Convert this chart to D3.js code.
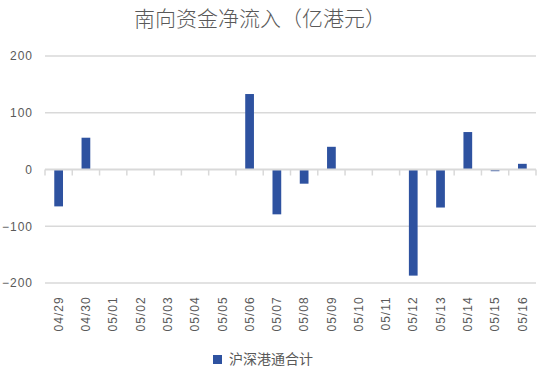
<!DOCTYPE html>
<html><head><meta charset="utf-8">
<script src="https://cdn.jsdelivr.net/npm/d3@7/dist/d3.min.js"></script>
<style>body{margin:0;background:#fff}svg{display:block}</style>
</head><body><svg id="c" width="541" height="379"></svg>
<script>
const categories = ["04/29","04/30","05/01","05/02","05/03","05/04","05/05","05/06","05/07","05/08","05/09","05/10","05/11","05/12","05/13","05/14","05/15","05/16"];
const values = [-65, 56, 0, 0, 0, 0, 0, 133, -79, -25, 40, 0, 0, -187, -67, 66, -3, 10];
const yTicks = [-200, -100, 0, 100, 200];
const title = "南向资金净流入（亿港元）";
const seriesName = "沪深港通合计";

const svg = d3.select("#c");
const m = {l: 45, r: 5, t: 56, b: 96};
const W = 541, H = 379;
const x = d3.scaleBand().domain(categories).range([m.l, W - m.r]).paddingInner(0.68).paddingOuter(0.34);
const y = d3.scaleLinear().domain([-200, 200]).range([H - m.b, m.t]);
const grey = "#595959", grid = "#d9d9d9", barCol = "#2e52a0";

svg.append("text").attr("x", 260).attr("y", 26).attr("text-anchor", "middle")
  .attr("font-family", "Noto Sans CJK SC").attr("font-weight", 300).attr("font-size", 21).attr("fill", grey).text(title);

// gridlines
svg.append("g").selectAll("line").data(yTicks.filter(d => d !== 0)).join("line")
  .attr("x1", m.l).attr("x2", W - m.r).attr("y1", d => y(d)).attr("y2", d => y(d))
  .attr("stroke", grid).attr("stroke-width", 1.5);

// y labels
const yAxis = d3.axisLeft(y).tickValues(yTicks).tickSize(0).tickPadding(12);
const ya = svg.append("g").attr("transform", `translate(${m.l},0)`).call(yAxis);
ya.select(".domain").remove();
ya.selectAll("text").attr("font-family", "Liberation Sans").attr("font-size", 12)
  .attr("fill", grey).attr("letter-spacing", "1px");

// bars
svg.append("g").selectAll("rect").data(values).join("rect")
  .attr("x", (d, i) => x(categories[i])).attr("width", x.bandwidth())
  .attr("y", d => y(Math.max(0, d))).attr("height", d => Math.abs(y(d) - y(0)))
  .attr("fill", barCol);

// zero axis with ticks between categories
const za = svg.append("g");
za.append("line").attr("x1", m.l).attr("x2", W - m.r).attr("y1", y(0)).attr("y2", y(0))
  .attr("stroke", grid).attr("stroke-width", 2);
const bounds = d3.range(categories.length + 1).map(i => m.l + i * (W - m.r - m.l) / categories.length);
za.selectAll("line.t").data(bounds).join("line").attr("class", "t")
  .attr("x1", d => d).attr("x2", d => d).attr("y1", y(0)).attr("y2", y(0) + 6)
  .attr("stroke", grid).attr("stroke-width", 1.5);

// x labels (rotated)
const xa = svg.append("g").attr("transform", `translate(0,${y(-200) + 9})`)
  .call(d3.axisBottom(x).tickSize(0).tickPadding(0));
xa.select(".domain").remove();
xa.selectAll("text").attr("font-family", "Liberation Sans").attr("font-size", 12)
  .attr("fill", grey).attr("letter-spacing", "1px")
  .attr("text-anchor", "end").attr("dy", "0.35em")
  .attr("transform", "rotate(-90)").attr("x", -x.bandwidth() / 2).attr("y", 0);

// legend
const lg = svg.append("g");
lg.append("rect").attr("x", 213).attr("y", 355).attr("width", 9).attr("height", 9).attr("fill", barCol);
lg.append("text").attr("x", 229).attr("y", 364).attr("font-family", "Noto Sans CJK SC")
  .attr("font-size", 14).attr("fill", grey).text(seriesName);
</script></body></html>
